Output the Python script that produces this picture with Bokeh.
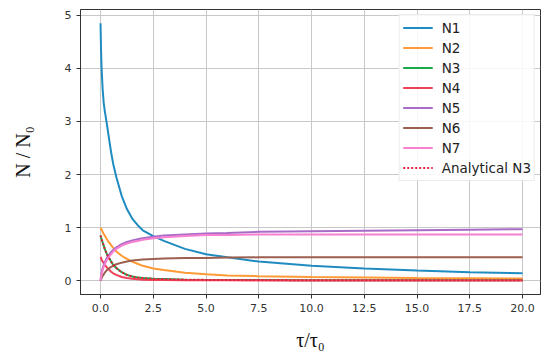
from bokeh.plotting import figure
from bokeh.models import Range1d, FixedTicker, PrintfTickFormatter, Legend, LegendItem
from bokeh.embed import file_html
from bokeh.resources import INLINE

tau = [0, 0.02, 0.05, 0.1, 0.15, 0.2, 0.3, 0.4, 0.5, 0.6, 0.75, 1, 1.25, 1.5, 1.75, 2, 2.5, 3, 4, 5, 6, 7.5, 10, 12.5, 15, 17.5, 20]
N1 = [4.85, 4.4, 4.0, 3.6, 3.35, 3.2, 2.95, 2.68, 2.42, 2.2, 1.95, 1.6, 1.35, 1.17, 1.05, 0.95, 0.84, 0.75, 0.6, 0.5, 0.44, 0.36, 0.28, 0.23, 0.19, 0.16, 0.14]
N2 = [1.0, 0.98, 0.96, 0.92, 0.88, 0.85, 0.78, 0.72, 0.67, 0.62, 0.55, 0.47, 0.41, 0.36, 0.32, 0.28, 0.23, 0.2, 0.15, 0.12, 0.1, 0.085, 0.07, 0.06, 0.05, 0.045, 0.04]
N3 = [0.85, 0.82, 0.78, 0.72, 0.66, 0.6, 0.5, 0.43, 0.36, 0.3, 0.24, 0.16, 0.11, 0.08, 0.06, 0.05, 0.035, 0.03, 0.02, 0.015, 0.013, 0.012, 0.01, 0.01, 0.01, 0.01, 0.01]
N4 = [0.45, 0.43, 0.4, 0.36, 0.33, 0.3, 0.25, 0.21, 0.17, 0.14, 0.11, 0.07, 0.05, 0.035, 0.026, 0.02, 0.015, 0.012, 0.01, 0.008, 0.007, 0.006, 0.005, 0.005, 0.005, 0.005, 0.005]
N5 = [0.0, 0.08, 0.15, 0.24, 0.3, 0.35, 0.43, 0.49, 0.54, 0.58, 0.63, 0.69, 0.73, 0.76, 0.78, 0.8, 0.83, 0.85, 0.87, 0.89, 0.9, 0.92, 0.93, 0.94, 0.95, 0.96, 0.97]
N6 = [0.0, 0.02, 0.05, 0.09, 0.12, 0.15, 0.2, 0.23, 0.26, 0.28, 0.31, 0.34, 0.36, 0.38, 0.39, 0.4, 0.41, 0.42, 0.43, 0.43, 0.435, 0.44, 0.44, 0.44, 0.44, 0.44, 0.44]
N7 = [0.0, 0.06, 0.12, 0.2, 0.26, 0.31, 0.39, 0.45, 0.5, 0.55, 0.6, 0.66, 0.7, 0.73, 0.75, 0.77, 0.8, 0.82, 0.84, 0.86, 0.86, 0.87, 0.87, 0.87, 0.87, 0.87, 0.87]
N3_analytical = [0.85, 0.82, 0.78, 0.72, 0.66, 0.6, 0.5, 0.43, 0.36, 0.3, 0.24, 0.16, 0.11, 0.08, 0.06, 0.05, 0.035, 0.03, 0.02, 0.015, 0.013, 0.012, 0.01, 0.01, 0.01, 0.01, 0.01]

x_ticks = [0, 2.5, 5, 7.5, 10, 12.5, 15, 17.5, 20]
y_ticks = [0, 1, 2, 3, 4, 5]

series = [
    ("N1", N1, "#1f8bc0"),
    ("N2", N2, "#ff9a35"),
    ("N3", N3, "#1aa84a"),
    ("N4", N4, "#f0405a"),
    ("N5", N5, "#a86cc8"),
    ("N6", N6, "#9c5f50"),
    ("N7", N7, "#f880d0"),
]

p = figure(width=550, height=354, output_backend="svg", toolbar_location=None,
           x_range=Range1d(-0.95, 20.85), y_range=Range1d(-0.26, 5.11),
           min_border_left=80, min_border_right=10, min_border_top=9, min_border_bottom=60)

items = []
for name, ys, c in series:
    r = p.line(tau, ys, line_color=c, line_width=2)
    items.append(LegendItem(label=name, renderers=[r]))
ra = p.line(tau, N3_analytical, line_color="#e0203c", line_width=2, line_dash="2 2")
items.append(LegendItem(label="Analytical N3", renderers=[ra]))

p.xaxis.ticker = FixedTicker(ticks=x_ticks)
p.yaxis.ticker = FixedTicker(ticks=y_ticks)
p.xaxis.formatter = PrintfTickFormatter(format="%.1f")
p.yaxis.formatter = PrintfTickFormatter(format="%d")

for ax in (p.xaxis[0], p.yaxis[0]):
    ax.major_label_text_font = "DejaVu Sans"
    ax.major_label_text_font_size = "11px"
    ax.major_label_text_color = "#333333"
    ax.minor_tick_line_color = None
    ax.major_tick_out = 4
    ax.major_tick_in = 0
    ax.major_tick_line_color = "#333333"
    ax.axis_line_color = "#333333"
    ax.axis_label_text_font = "Liberation Serif"
    ax.axis_label_text_font_size = "20px"
    ax.axis_label_text_font_style = "normal"
    ax.axis_label_text_color = "#111111"

p.xaxis.axis_label = "τ/τ₀"
p.yaxis.axis_label = "N / N₀"
p.xaxis.axis_label_standoff = 14
p.yaxis.axis_label_standoff = 28

p.outline_line_color = "#333333"
p.outline_line_width = 1
p.grid.grid_line_color = "#c8c8c8"
p.grid.grid_line_width = 1

legend = Legend(items=items, location="top_right")
legend.label_text_font = "DejaVu Sans"
legend.label_text_font_size = "13.5px"
legend.label_text_color = "#222222"
legend.glyph_width = 30
legend.glyph_height = 19
legend.label_height = 19
legend.label_standoff = 9
legend.spacing = 1
legend.padding = 3
legend.margin = 5
legend.border_line_color = "#d8d8d8"
legend.background_fill_alpha = 0.85
p.add_layout(legend)

open("out.html", "w").write(file_html(p, INLINE))
